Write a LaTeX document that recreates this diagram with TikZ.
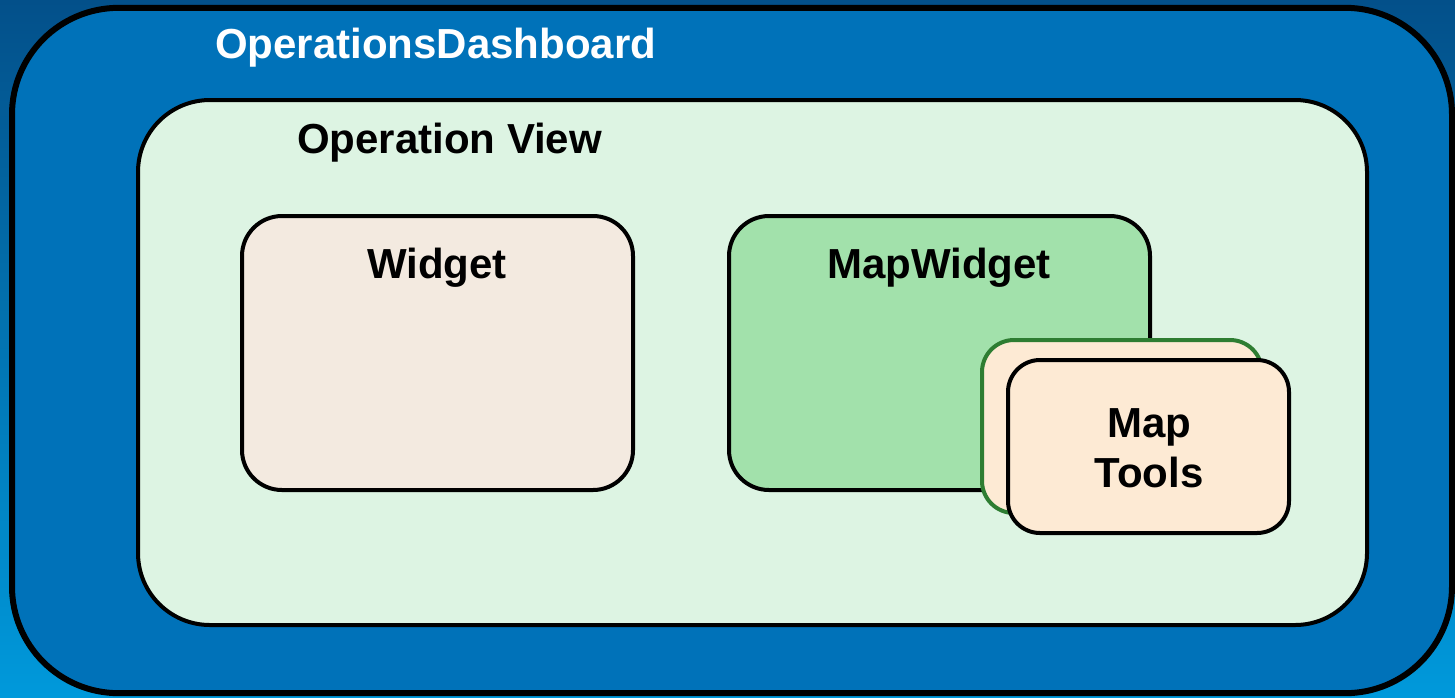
\documentclass[tikz,border=0pt]{standalone}
\usepackage{fontspec}
\setmainfont{Liberation Sans}
\definecolor{bgtop}{HTML}{03508A}
\definecolor{bgbot}{HTML}{0099DB}
\definecolor{outerfill}{HTML}{0072B9}
\definecolor{viewfill}{HTML}{DDF4E3}
\definecolor{widgetfill}{HTML}{F3EAE0}
\definecolor{mapfill}{HTML}{A2E1AB}
\definecolor{toolfill}{HTML}{FDEAD4}
\definecolor{toolgreen}{HTML}{2E7D32}
\tikzset{
  box/.style={draw=black, rectangle, inner sep=0pt, outer sep=0pt},
  lbl/.style={font=\fontsize{31.5}{37.5}\selectfont\bfseries, inner sep=0pt, outer sep=0pt}
}
\begin{document}
\begin{tikzpicture}[x=0.75pt, y=-0.75pt]
\useasboundingbox (0,0) rectangle (1455,697);
\shade[top color=bgtop, bottom color=bgbot] (0,0) rectangle (1455,697);
% outer dashboard
\node[box, line width=4.5pt, fill=outerfill, rounded corners=80pt,
  minimum width=1080pt, minimum height=514pt] (dash) at (732,350.5) {};
% operation view
\node[box, line width=3pt, fill=viewfill, rounded corners=54pt,
  minimum width=921.75pt, minimum height=393.75pt] (view) at (752.5,362.5) {};
% widget
\node[box, line width=3pt, fill=widgetfill, rounded corners=30pt,
  minimum width=293.25pt, minimum height=205.5pt] (widget) at (437.5,353) {};
% map widget
\node[box, line width=3pt, fill=mapfill, rounded corners=30pt,
  minimum width=315.75pt, minimum height=205.5pt] (mapw) at (939.5,353) {};
% map tools (back)
\node[box, draw=toolgreen, line width=3pt, fill=toolfill, rounded corners=24pt,
  minimum width=210pt, minimum height=129.75pt] (toolsback) at (1122,426.5) {};
% map tools (front)
\node[box, line width=3pt, fill=toolfill, rounded corners=24pt,
  minimum width=210.75pt, minimum height=129.75pt] (tools) at (1148.5,446.5) {};
% labels
\node[lbl, text=white, anchor=base west] (tdash) at (215,58) {OperationsDashboard};
\node[lbl, anchor=base west] (tview) at (297,153) {Operation View};
\node[lbl, anchor=base] (twidget) at (437,278) {Widget};
\node[lbl, anchor=base] (tmapw) at (939,278) {MapWidget};
\node[lbl, anchor=base, align=center] (ttools) at (1149,487) {Map\\Tools};
\end{tikzpicture}
\end{document}
